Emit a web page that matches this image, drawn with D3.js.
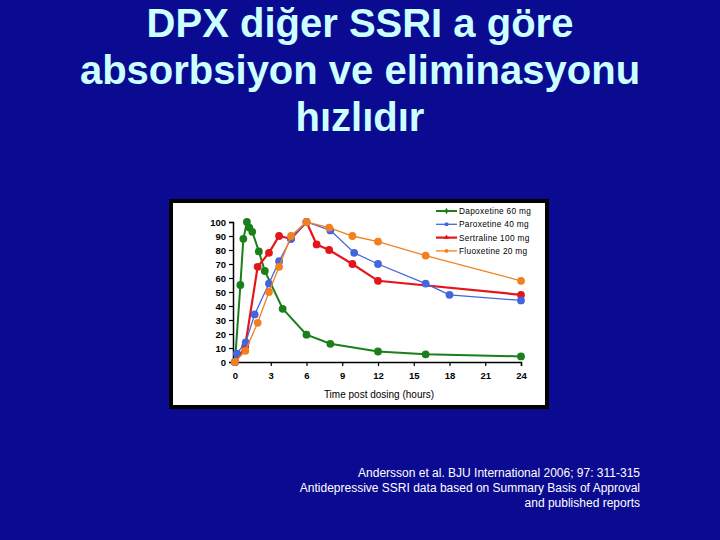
<!DOCTYPE html>
<html>
<head>
<meta charset="utf-8">
<script src="https://cdn.jsdelivr.net/npm/d3@7"></script>
<style>
  html, body { margin: 0; padding: 0; background: #0b0b92; }
  svg { display: block; }
</style>
</head>
<body>
<svg id="chart" width="720" height="540"></svg>
<script>
// ---- data ----
const titleLines = ["DPX diğer SSRI a göre", "absorbsiyon ve eliminasyonu", "hızlıdır"];
const citationLines = [
  "Andersson et al. BJU International 2006; 97: 311-315",
  "Antidepressive SSRI data based on Summary Basis of Approval",
  "and published reports"
];
const xTicks = [0, 3, 6, 9, 12, 15, 18, 21, 24];
const yTicks = [0, 10, 20, 30, 40, 50, 60, 70, 80, 90, 100];
const xAxisTitle = "Time post dosing (hours)";

const seriesNames = ["Dapoxetine 60 mg", "Paroxetine 40 mg", "Sertraline 100 mg", "Fluoxetine 20 mg"];
const seriesColors = ["#1b7f1b", "#4466dd", "#e3161b", "#f2801f"];

const hoursDapoxetine  = [0, 0.45, 0.7, 1, 1.2, 1.45, 2, 2.5, 4, 6, 8, 12, 16, 24];
const valuesDapoxetine = [0, 55, 88, 100, 96, 93, 79, 65, 38, 19.5, 13, 7.5, 5.5, 4];

const hoursParoxetine  = [0, 0.15, 0.9, 1.65, 2.85, 3.7, 4.7, 6, 8, 10, 12, 16, 18, 24];
const valuesParoxetine = [0, 6, 14, 34, 56, 72, 88, 100, 94, 78, 70, 56, 48, 44];

const hoursSertraline  = [0, 0.85, 1.9, 2.85, 3.7, 4.7, 6, 6.85, 7.9, 9.85, 12, 24];
const valuesSertraline = [0, 11, 68, 78, 90, 88, 100, 84, 80, 70, 58, 48];

const hoursFluoxetine  = [0, 0.87, 1.9, 2.85, 3.7, 4.7, 6, 7.9, 9.85, 12, 16, 24];
const valuesFluoxetine = [0, 8, 28, 50, 68, 90, 100, 96, 90, 86, 76, 58];

// ---- build ----
const series = [
  { name: seriesNames[0], color: seriesColors[0], hours: hoursDapoxetine, values: valuesDapoxetine, lw: 2, marker: "diamond" },
  { name: seriesNames[2], color: seriesColors[2], hours: hoursSertraline, values: valuesSertraline, lw: 2.2, marker: "triangle" },
  { name: seriesNames[1], color: seriesColors[1], hours: hoursParoxetine, values: valuesParoxetine, lw: 1.3, marker: "square" },
  { name: seriesNames[3], color: seriesColors[3], hours: hoursFluoxetine, values: valuesFluoxetine, lw: 1.3, marker: "circle" }
];

const svg = d3.select("#chart");
const font = "'Liberation Sans', Arial, Helvetica, sans-serif";

// title
svg.append("g").selectAll("text").data(titleLines).join("text")
  .attr("x", 360).attr("y", (d, i) => 37 + i * 47)
  .attr("text-anchor", "middle")
  .attr("font-family", font).attr("font-weight", "bold").attr("font-size", 40)
  .attr("fill", "#ccffff")
  .text(d => d);

// chart panel
svg.append("rect").attr("x", 169).attr("y", 199).attr("width", 380).attr("height", 210).attr("fill", "#000");
svg.append("rect").attr("x", 173).attr("y", 203).attr("width", 372).attr("height", 202).attr("fill", "#fff");

const x = d3.scaleLinear().domain([0, 24]).range([235, 521]);
const y = d3.scaleLinear().domain([0, 100]).range([362, 222]);

// y axis
const yAxis = d3.axisLeft(y).tickValues(yTicks).tickSize(4).tickPadding(3).tickFormat(d3.format("d"));
const gy = svg.append("g").attr("transform", "translate(233,0)").call(yAxis);
gy.select(".domain").attr("stroke", "#000").attr("stroke-width", 1.5);
gy.selectAll(".tick line").attr("stroke", "#000").attr("stroke-width", 1.2);
gy.selectAll(".tick text").attr("font-family", font).attr("font-weight", "bold").attr("font-size", 9.5).attr("fill", "#000");

// x axis
const xAxis = d3.axisBottom(x).tickValues(xTicks).tickSize(4).tickPadding(6).tickFormat(d3.format("d"));
const gx = svg.append("g").attr("transform", "translate(0,362)").call(xAxis);
gx.select(".domain").attr("stroke", "#000").attr("stroke-width", 1.5);
gx.selectAll(".tick line").attr("stroke", "#000").attr("stroke-width", 1.2);
gx.selectAll(".tick text").attr("font-family", font).attr("font-weight", "bold").attr("font-size", 9.5).attr("fill", "#000");

svg.append("text").attr("x", 379).attr("y", 398)
  .attr("text-anchor", "middle").attr("font-family", font).attr("font-size", 10).attr("fill", "#000")
  .text(xAxisTitle);

// lines and points
const line = d3.line().x(d => x(d[0])).y(d => y(d[1]));
series.forEach(s => {
  const pts = s.hours.map((h, i) => [h, s.values[i]]);
  const g = svg.append("g");
  g.append("path").datum(pts).attr("d", line)
    .attr("fill", "none").attr("stroke", s.color).attr("stroke-width", s.lw);
  g.selectAll("circle").data(pts).join("circle")
    .attr("cx", d => x(d[0])).attr("cy", d => y(d[1])).attr("r", 3.9)
    .attr("fill", s.color);
});

// legend (in the order of seriesNames)
const lg = svg.append("g");
const symMap = { diamond: d3.symbolDiamond, square: d3.symbolSquare, triangle: d3.symbolTriangle, circle: d3.symbolCircle };
seriesNames.forEach((nm, k) => {
  const s = series.find(o => o.name === nm);
  const yy = 211 + k * 13.3;
  lg.append("line").attr("x1", 436).attr("x2", 457).attr("y1", yy).attr("y2", yy)
    .attr("stroke", s.color).attr("stroke-width", s.lw);
  lg.append("path").attr("d", d3.symbol().type(symMap[s.marker]).size(12)())
    .attr("transform", `translate(446.5,${yy})`).attr("fill", s.color);
  lg.append("text").attr("x", 459).attr("y", yy + 3)
    .attr("font-family", font).attr("font-size", 8.3).attr("letter-spacing", 0.3).attr("fill", "#000")
    .text(s.name);
});

// citation
svg.append("g").selectAll("text").data(citationLines).join("text")
  .attr("x", 640).attr("y", (d, i) => 477 + i * 15)
  .attr("text-anchor", "end").attr("font-family", font).attr("font-size", 12).attr("fill", "#fff")
  .text(d => d);
</script>
</body>
</html>
